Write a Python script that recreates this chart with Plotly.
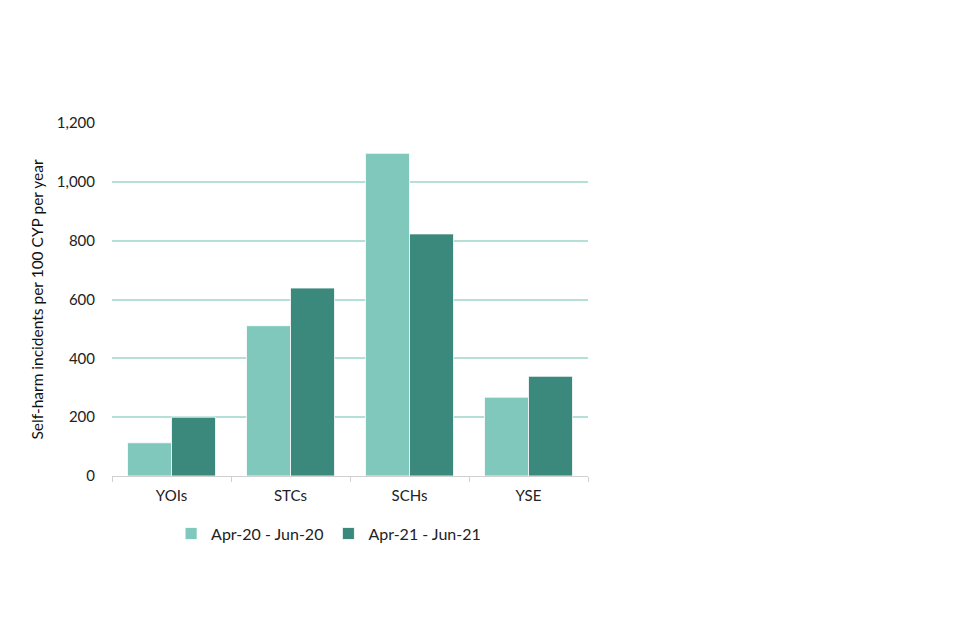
import plotly.graph_objects as go

categories = ["YOIs", "STCs", "SCHs", "YSE"]
series_names = ["Apr-20 - Jun-20", "Apr-21 - Jun-21"]
values_2020 = [113, 511, 1097, 268]
values_2021 = [200, 639, 823, 339]
y_ticks = [0, 200, 400, 600, 800, 1000, 1200]
y_tick_labels = ["0", "200", "400", "600", "800", "1,000", "1,200"]

FONT = "Lato, Open Sans, sans-serif"

fig = go.Figure()
fig.add_trace(go.Bar(x=categories, y=values_2020, name=series_names[0],
                     marker=dict(color="#7fc8bb", line=dict(color="white", width=0.8))))
fig.add_trace(go.Bar(x=categories, y=values_2021, name=series_names[1],
                     marker=dict(color="#3b887c", line=dict(color="white", width=0.8))))

fig.update_layout(
    width=960, height=640,
    margin=dict(l=104, r=380, t=115, b=172),
    paper_bgcolor="white", plot_bgcolor="white",
    barmode="group", bargap=0.26, bargroupgap=0,
    font=dict(family=FONT, size=15, color="#222222"),
    legend=dict(orientation="h", x=0.455, xanchor="center", y=-0.115, yanchor="top",
                font=dict(family=FONT, size=16, color="#222222"),
                itemwidth=30, traceorder="normal"),
    xaxis=dict(showgrid=False, showline=True, linecolor="#d0d0d0", linewidth=1,
               ticks="outside", ticklen=5, tickcolor="#d0d0d0", tickson="boundaries",
               ticklabelstandoff=6,
               tickfont=dict(family=FONT, size=15, color="#222222")),
    yaxis=dict(range=[0, 1200], tickvals=y_ticks, ticktext=y_tick_labels,
               showgrid=True, gridcolor="#b5e0d8", gridwidth=1.5, zeroline=False,
               showline=False, ticks="", ticklabelstandoff=16,
               tickfont=dict(family=FONT, size=15, color="#222222"),
               title=dict(text="Self-harm incidents per 100 CYP per year",
                          font=dict(family=FONT, size=15.5, color="#111111"), standoff=9)),
)

fig.write_html("out.html")
